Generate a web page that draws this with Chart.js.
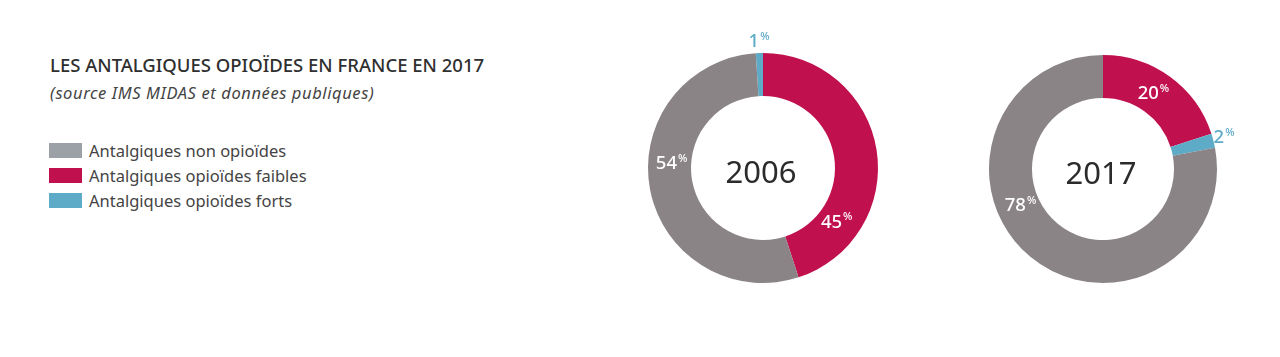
<!DOCTYPE html>
<html><head><meta charset="utf-8">
<script src="https://cdn.jsdelivr.net/npm/chart.js@4/dist/chart.umd.min.js"></script>
<style>
body{margin:0;background:#fff;width:1280px;height:357px;overflow:hidden;position:relative;font-family:"Noto Sans",sans-serif;color:#333}
#title{position:absolute;left:50px;top:52px;font-size:18.5px;font-weight:500;white-space:nowrap;color:#2f2f2f}
#subtitle{position:absolute;left:50px;top:81px;font-size:16.5px;letter-spacing:0.6px;font-style:italic;white-space:nowrap;color:#444}
#legend{position:absolute;left:49px;top:138px}
.item{display:flex;align-items:center;height:25px;font-size:16.5px;color:#444;white-space:nowrap}
.sw{width:33px;height:15px;margin-right:7px}
canvas{position:absolute}
#c2006{left:613px;top:18px}
#c2017{left:953px;top:19px}
</style></head>
<body>
<div id="title"></div>
<div id="subtitle"></div>
<div id="legend"></div>
<canvas id="c2006" width="300" height="300"></canvas>
<canvas id="c2017" width="300" height="300"></canvas>
<script>
const titleText = 'LES ANTALGIQUES OPIOÏDES EN FRANCE EN 2017';
const subtitleText = '(source IMS MIDAS et données publiques)';
const categories = ['Antalgiques non opioïdes', 'Antalgiques opioïdes faibles', 'Antalgiques opioïdes forts'];
const values2006 = [54, 45, 1];
const values2017 = [78, 20, 2];
const order2006 = [2, 1, 0];
const order2017 = [1, 2, 0];

const legendColors = ['#9ca1a7', '#c0104e', '#5eabc8'];
const sliceColors = ['#8b8486', '#c0104e', '#5eabc8'];
const outsideColor = '#5eabc8';

document.getElementById('title').textContent = titleText;
document.getElementById('subtitle').textContent = subtitleText;
const lg = document.getElementById('legend');
categories.forEach((c, i) => {
  const d = document.createElement('div'); d.className = 'item';
  const s = document.createElement('div'); s.className = 'sw'; s.style.background = legendColors[i];
  const t = document.createElement('span'); t.textContent = c;
  d.appendChild(s); d.appendChild(t); lg.appendChild(d);
});

const labelPlugin = {
  id: 'pctLabels',
  afterDatasetsDraw(chart, args, opts) {
    const ctx = chart.ctx;
    const meta = chart.getDatasetMeta(0);
    const ds = chart.data.datasets[0];
    ctx.save();
    meta.data.forEach((arc, i) => {
      const v = ds.data[i];
      const p = arc.getProps(['x','y','startAngle','endAngle','innerRadius','outerRadius'], true);
      const frac = (opts.fracs && opts.fracs[i] != null) ? opts.fracs[i] : 0.5;
      const a = p.startAngle + frac * (p.endAngle - p.startAngle);
      const inside = v >= 5;
      const r = inside ? (p.innerRadius + p.outerRadius) / 2 - 2 : p.outerRadius + 11;
      const cx = p.x + Math.cos(a) * r, cy = p.y + Math.sin(a) * r;
      const num = String(v);
      ctx.font = '500 18.5px "Noto Sans"';
      const wn = ctx.measureText(num).width;
      ctx.font = '500 11px "Noto Sans"';
      const wp = ctx.measureText('%').width;
      const total = wn + 1 + wp;
      const x0 = cx - total / 2;
      ctx.fillStyle = inside ? '#ffffff' : outsideColor;
      ctx.textBaseline = 'middle';
      ctx.textAlign = 'left';
      ctx.font = '500 18.5px "Noto Sans"';
      ctx.fillText(num, x0, cy);
      ctx.font = '500 11px "Noto Sans"';
      ctx.fillText('%', x0 + wn + 1, cy - 5);
    });
    const a0 = meta.data[0];
    ctx.fillStyle = '#2b2b2b';
    ctx.font = '31px "Noto Sans"';
    ctx.textAlign = 'center';
    ctx.textBaseline = 'middle';
    ctx.fillText(opts.year, a0.x - 2, a0.y + 6);
    ctx.restore();
  }
};

function makeChart(id, year, values, order, rotation, cutout, pad, fracs) {
  new Chart(document.getElementById(id), {
    type: 'doughnut',
    data: {
      labels: order.map(i => categories[i]),
      datasets: [{
        data: order.map(i => values[i]),
        backgroundColor: order.map(i => sliceColors[i]),
        borderWidth: 0
      }]
    },
    options: {
      responsive: false,
      animation: false,
      rotation: rotation,
      cutout: cutout,
      layout: { padding: pad },
      plugins: {
        legend: { display: false },
        tooltip: { enabled: false },
        pctLabels: { year: year, fracs: fracs }
      }
    },
    plugins: [labelPlugin]
  });
}

makeChart('c2006', '2006', values2006, order2006, -3.6, '62.6%', 35, [0.5, 0.78, 0.57]);
makeChart('c2017', '2017', values2017, order2017, 0, '62.3%', 36, [0.47, 0.5, 0.593]);
</script>
</body></html>
